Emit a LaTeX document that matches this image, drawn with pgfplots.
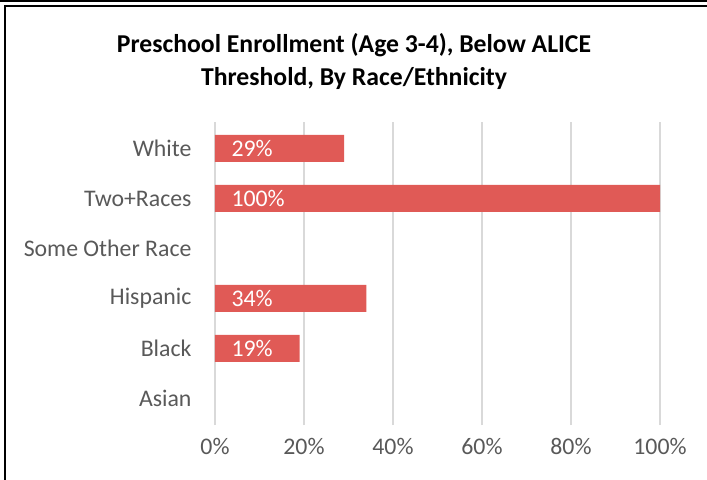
\documentclass[border=0pt]{standalone}
\usepackage{pgfplots}
\pgfplotsset{compat=1.18}
\usepackage{fontspec}
\setmainfont{Carlito}
\definecolor{barred}{RGB}{224,90,86}
\definecolor{txtgray}{RGB}{89,89,89}
\definecolor{gridgray}{RGB}{217,217,217}

\begin{document}
\begin{tikzpicture}
\useasboundingbox (-215bp,-55bp) rectangle (492bp,425bp);
% frame
\draw[line width=2bp] (-215bp,424bp) -- (492bp,424bp);
\draw[line width=2bp] (-210bp,-55bp) -- (-210bp,419bp) -- (492bp,419bp);
\node[font=\fontsize{25.7bp}{33bp}\selectfont\bfseries, align=center] at (139bp,364bp)
  {Preschool Enrollment (Age 3-4), Below ALICE\\Threshold, By Race/Ethnicity};
\begin{axis}[
    scale only axis,
    width=445bp, height=303bp,
    xmin=0, xmax=100,
    ymin=-0.53, ymax=5.53,
    axis line style={draw=none},
    tick style={draw=none},
    xtick={0,20,40,60,80,100},
    xticklabel={\pgfmathprintnumber{\tick}\%},
    ytick={0,1,2,3,4,5},
    yticklabels={Asian,Black,Hispanic,Some Other Race,Two+Races,White},
    xmajorgrids=true,
    grid style={gridgray, line width=1.2bp},
    ticklabel style={font=\fontsize{23.8bp}{28bp}\selectfont, text=txtgray},
    /pgf/number format/assume math mode=true,
    xticklabel style={yshift=-10bp},
    yticklabel style={xshift=-20bp},
]
\addplot[xbar, bar width=27bp, bar shift=0pt, draw=none, fill=barred]
  coordinates {(29,5) (100,4) (34,2) (19,1)};
\addplot[draw=none, mark=none, nodes near coords, point meta=explicit symbolic,
    nodes near coords style={anchor=west, text=white, xshift=13bp,
    font=\fontsize{23.8bp}{28bp}\selectfont}]
  coordinates {(0,5) [29\%] (0,4) [100\%] (0,2) [34\%] (0,1) [19\%]};
\end{axis}
\end{tikzpicture}
\end{document}
